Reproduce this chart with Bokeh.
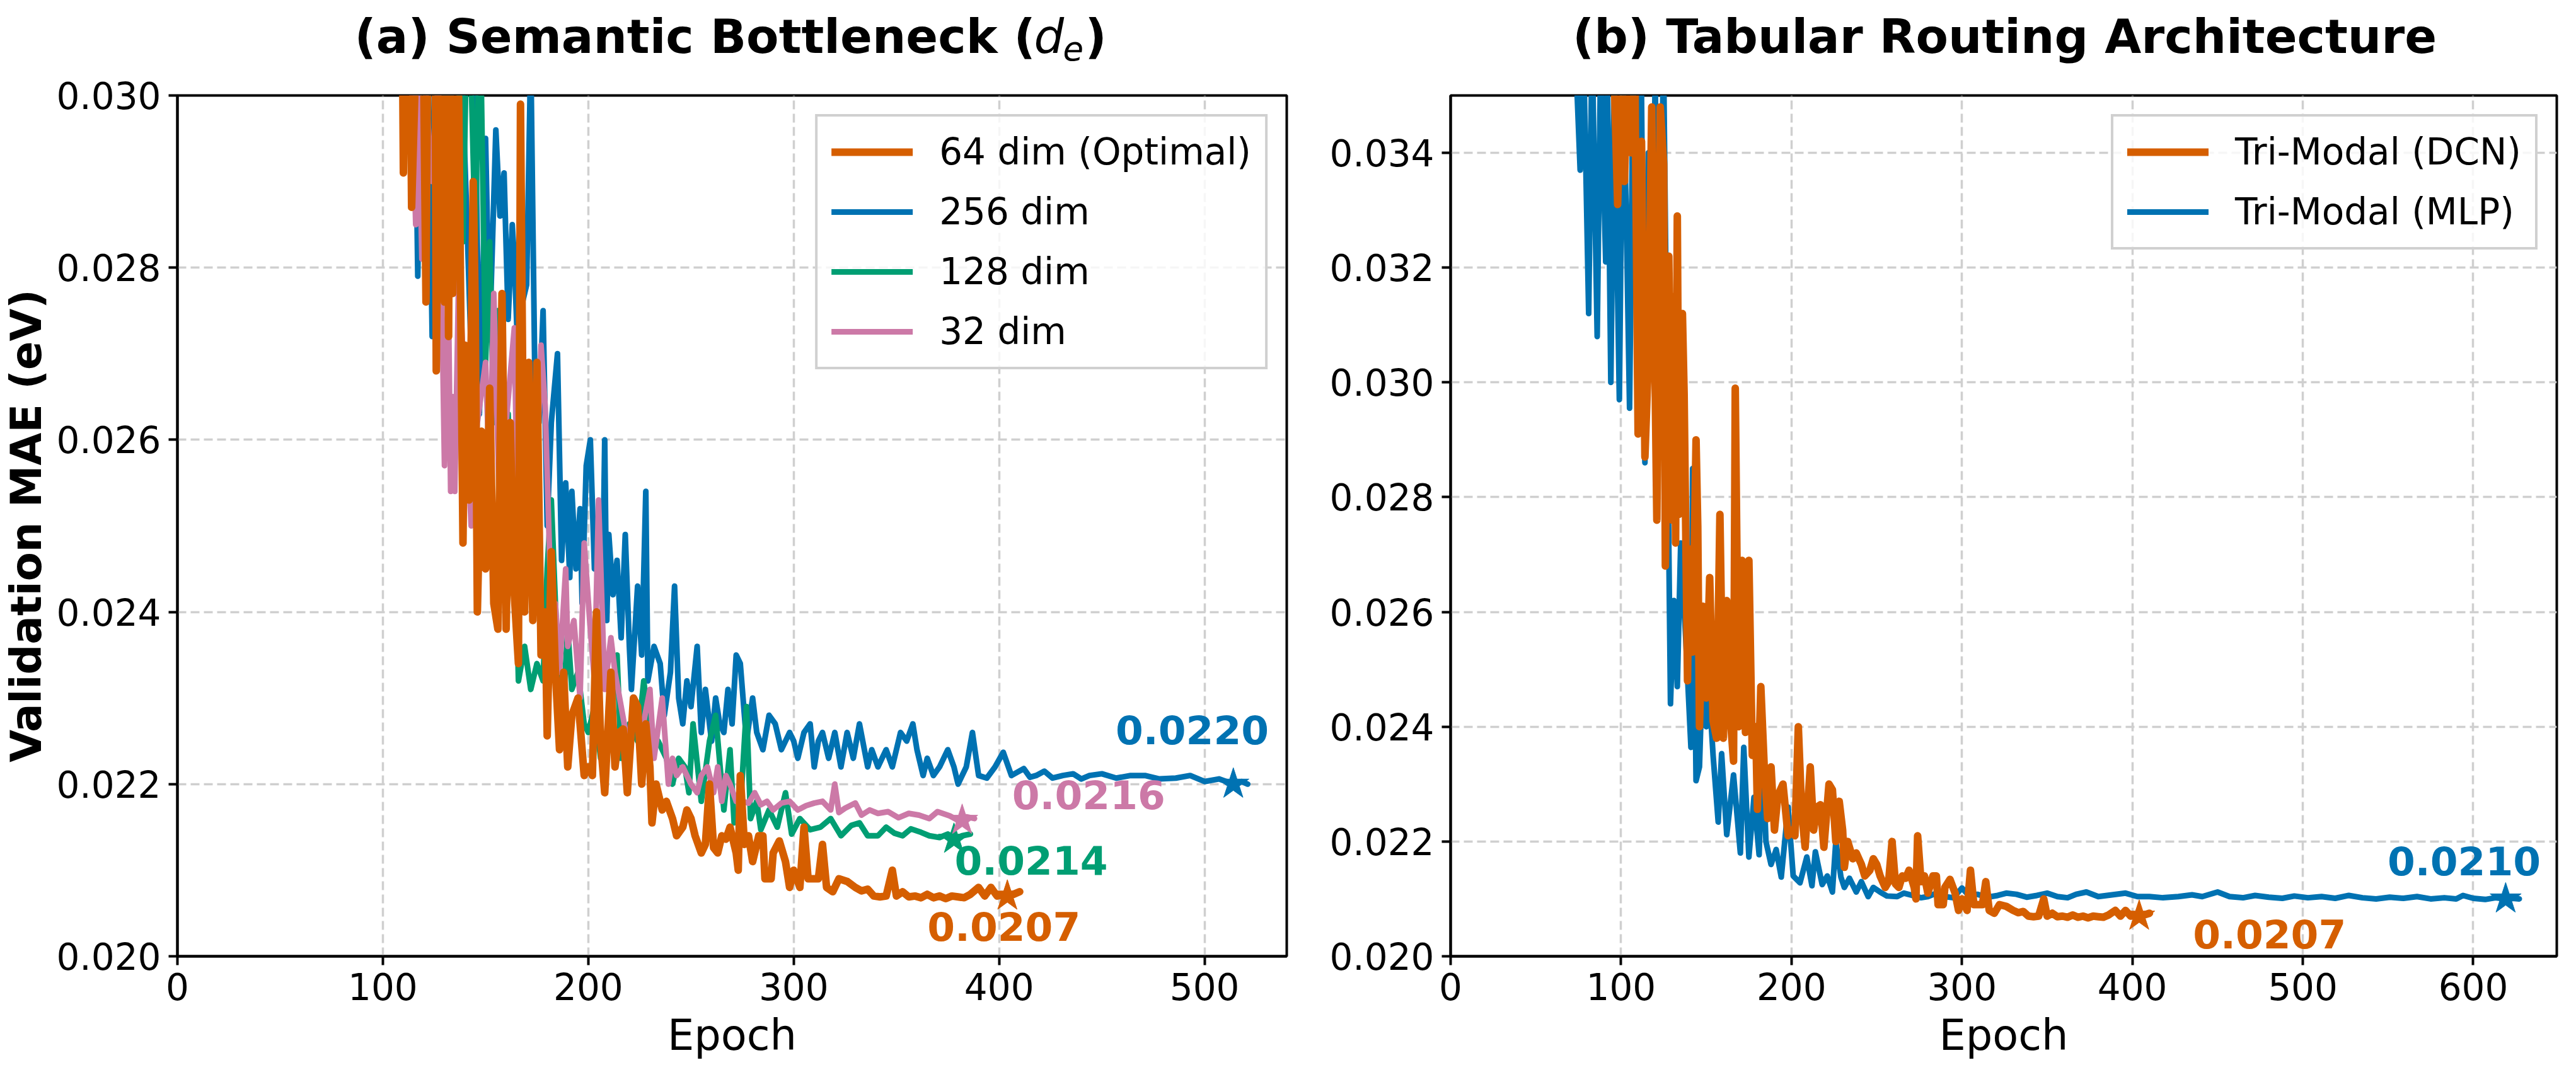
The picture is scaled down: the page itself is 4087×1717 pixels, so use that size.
from bokeh.plotting import figure
from bokeh.models import Range1d, FixedTicker, PrintfTickFormatter, Legend, LegendItem, Label
from bokeh.layouts import row, column
from bokeh.embed import file_html
from bokeh.resources import INLINE

ORANGE = "#D55E00"
BLUE = "#0072B2"
GREEN = "#009E73"
PINK = "#CC79A7"
FONT = "DejaVu Sans"

# ---------------- data ----------------
# 64 dim (Optimal) == Tri-Modal (DCN): same run shown in both panels
EPOCH_DIM64 = [94, 98, 100, 102, 104, 106, 108, 110, 112, 114, 116, 118, 121, 123, 125, 126, 128, 130, 131, 132,
               133, 134, 136, 137, 139, 140, 142, 144, 145, 146, 148, 150, 152, 154, 156, 158, 160, 162, 164, 166,
               167, 169, 171, 173, 175, 177, 179, 180, 182, 184, 186, 188, 190, 192, 195, 198, 200, 202, 204, 206,
               208, 211, 213, 215, 217, 219, 222, 224, 226, 228, 230, 231, 233, 236, 238, 241, 243, 246, 248, 250,
               252, 255, 257, 259, 261, 263, 265, 267, 269, 272, 273, 274, 276, 278, 280, 283, 285, 286, 289, 290,
               293, 296, 298, 300, 303, 305, 307, 309, 312, 314, 316, 319, 322, 326, 330, 333, 336, 339, 342, 345,
               348, 350, 353, 356, 359, 362, 365, 368, 371, 374, 377, 380, 383, 386, 390, 393, 396, 399, 401, 404,
               407, 410]
MAE_DIM64 = [0.0375, 0.0331, 0.0352, 0.0335, 0.0356, 0.0340, 0.0358, 0.0291, 0.0342, 0.0287, 0.0304, 0.0348, 0.0276,
             0.0348, 0.0338, 0.0268, 0.0322, 0.0276, 0.0315, 0.0272, 0.0329, 0.0277, 0.0312, 0.0298, 0.0248, 0.0271,
             0.0253, 0.0290, 0.0275, 0.0240, 0.0261, 0.0245, 0.0266, 0.0241, 0.0238, 0.0277, 0.0238, 0.0262, 0.0242,
             0.0234, 0.0299, 0.0240, 0.0269, 0.0239, 0.0269, 0.0235, 0.0240, 0.02256, 0.0247, 0.0233, 0.0224, 0.0233,
             0.0222, 0.0228, 0.0230, 0.0221, 0.0222, 0.0221, 0.0240, 0.0225, 0.0219, 0.0233, 0.0222, 0.0226, 0.02264,
             0.0219, 0.0230, 0.0229, 0.0220, 0.0227, 0.0222, 0.02155, 0.0220, 0.0217, 0.0218, 0.0216, 0.0214, 0.0215,
             0.0217, 0.0216, 0.0214, 0.0212, 0.0213, 0.0220, 0.02126, 0.0212, 0.0214, 0.02136, 0.0215, 0.0212, 0.0210,
             0.0221, 0.0213, 0.0214, 0.0211, 0.0214, 0.0214, 0.0209, 0.0209, 0.0212, 0.02134, 0.0211, 0.0208, 0.0210,
             0.0208, 0.0215, 0.0209, 0.0209, 0.0209, 0.0213, 0.0208, 0.02075, 0.0209, 0.02087, 0.0208, 0.02076,
             0.02078, 0.0207, 0.02069, 0.0207, 0.0210, 0.0207, 0.02075, 0.02069, 0.0207, 0.02068, 0.02072, 0.02068,
             0.0207, 0.02067, 0.0207, 0.02069, 0.02068, 0.02072, 0.0208, 0.0207, 0.0208, 0.0207, 0.02071, 0.0207,
             0.02072, 0.02075]

EPOCH_DIM256 = [110, 113, 115, 117, 119, 122, 124, 126, 129, 132, 135, 138, 141, 143, 145, 147, 149, 150, 152, 155,
                157, 159, 161, 163, 164, 166, 168, 170, 172, 174, 176, 178, 180, 182, 185, 187, 189, 191, 192, 194,
                196, 197, 199, 201, 203, 205, 207, 208, 209, 210, 212, 214, 216, 218, 220, 221, 224, 226, 228, 229,
                232, 235, 237, 240, 242, 244, 246, 248, 250, 253, 255, 257, 260, 262, 264, 266, 268, 270, 272, 274,
                277, 280, 282, 285, 288, 291, 294, 298, 300, 302, 305, 308, 310, 312, 314, 317, 320, 323, 326, 329,
                332, 336, 338, 341, 345, 348, 352, 355, 358, 360, 363, 365, 368, 371, 375, 378, 380, 384, 387, 390,
                394, 398, 402, 406, 409, 412, 415, 418, 422, 426, 431, 436, 440, 444, 450, 457, 464, 471, 478, 486,
                493, 500, 507, 514, 518, 521]
MAE_DIM256 = [0.0330, 0.0302, 0.0315, 0.0279, 0.0310, 0.0305, 0.0272, 0.0310, 0.0292, 0.0308, 0.0288, 0.0306, 0.0285,
              0.0270, 0.0301, 0.0263, 0.0282, 0.0295, 0.0272, 0.0296, 0.0286, 0.0291, 0.0274, 0.0285, 0.0281, 0.0268,
              0.0276, 0.0278, 0.0305, 0.0267, 0.0262, 0.0275, 0.0250, 0.0262, 0.0270, 0.0246, 0.0255, 0.0244, 0.0254,
              0.0245, 0.0252, 0.0241, 0.0257, 0.0260, 0.0245, 0.0250, 0.0243, 0.0260, 0.0239, 0.0249, 0.0242, 0.0246,
              0.0237, 0.0249, 0.0236, 0.0231, 0.0243, 0.0235, 0.0254, 0.0232, 0.0236, 0.0234, 0.0228, 0.0233, 0.0243,
              0.0230, 0.0227, 0.0232, 0.0229, 0.0236, 0.0226, 0.0231, 0.0225, 0.0230, 0.0227, 0.0226, 0.0231, 0.0227,
              0.0235, 0.0234, 0.0225, 0.0230, 0.0226, 0.0224, 0.0228, 0.0227, 0.0224, 0.0226, 0.0225, 0.0223, 0.0226,
              0.0227, 0.0222, 0.0225, 0.0226, 0.0223, 0.0226, 0.0222, 0.0226, 0.0223, 0.0227, 0.0222, 0.0224, 0.0222,
              0.0224, 0.0222, 0.0226, 0.0225, 0.0227, 0.0224, 0.0221, 0.0223, 0.0221, 0.0222, 0.0224, 0.0222, 0.0220,
              0.0222, 0.0226, 0.0221, 0.02207, 0.0222, 0.02237, 0.0221, 0.02214, 0.02218, 0.02208, 0.0221, 0.02215,
              0.02207, 0.0221, 0.02212, 0.02206, 0.0221, 0.02212, 0.02207, 0.0221, 0.0221, 0.02206, 0.02207, 0.0221,
              0.02203, 0.02206, 0.0220, 0.02203, 0.0220]

EPOCH_DIM128 = [133, 135, 137, 139, 141, 143, 145, 147, 148, 150, 152, 154, 156, 158, 161, 163, 164, 166, 169, 172,
                175, 178, 180, 182, 185, 188, 190, 192, 195, 198, 200, 203, 206, 210, 214, 216, 220, 224, 227, 230,
                234, 238, 241, 244, 247, 249, 251, 255, 259, 262, 266, 269, 271, 274, 277, 279, 282, 284, 288, 292,
                296, 299, 303, 308, 313, 318, 323, 328, 332, 336, 341, 345, 349, 353, 357, 362, 366, 371, 375, 378,
                382, 386]
MAE_DIM128 = [0.0330, 0.0315, 0.0305, 0.0283, 0.0310, 0.0302, 0.0283, 0.0310, 0.0300, 0.0269, 0.0283, 0.0262, 0.0275,
              0.0258, 0.0263, 0.0250, 0.0252, 0.0232, 0.0236, 0.0231, 0.0234, 0.0232, 0.0245, 0.0253, 0.0235, 0.0230,
              0.0238, 0.0231, 0.0233, 0.0227, 0.0226, 0.0229, 0.0223, 0.0226, 0.0235, 0.0223, 0.0227, 0.0225, 0.0232,
              0.0226, 0.0225, 0.0223, 0.0220, 0.0223, 0.0222, 0.0219, 0.0227, 0.0218, 0.0225, 0.0228, 0.0217, 0.0224,
              0.02155, 0.0217, 0.0229, 0.0216, 0.0218, 0.02147, 0.0217, 0.0215, 0.0219, 0.02142, 0.0216, 0.02147,
              0.0215, 0.0216, 0.0214, 0.02152, 0.02155, 0.0214, 0.0214, 0.0215, 0.02143, 0.0214, 0.02148, 0.02144,
              0.0214, 0.02138, 0.02142, 0.02136, 0.0214, 0.02142]

EPOCH_DIM32 = [112, 114, 116, 117, 119, 121, 124, 127, 130, 132, 133, 134, 135, 137, 140, 143, 146, 150, 152, 154,
               157, 160, 164, 166, 170, 174, 177, 179, 182, 184, 186, 189, 190, 193, 196, 198, 201, 203, 205, 208,
               211, 213, 216, 219, 223, 226, 230, 232, 236, 239, 241, 243, 246, 250, 253, 255, 258, 261, 263, 265,
               267, 269, 272, 275, 278, 281, 284, 287, 290, 294, 298, 302, 306, 310, 314, 318, 320, 322, 325, 330,
               333, 337, 341, 346, 351, 356, 361, 366, 370, 376, 380, 384, 388]
MAE_DIM32 = [0.0330, 0.0302, 0.0285, 0.0305, 0.0281, 0.0300, 0.0290, 0.0302, 0.0257, 0.0275, 0.0254, 0.0265, 0.0254,
             0.0280, 0.0265, 0.0250, 0.0262, 0.0269, 0.0255, 0.0277, 0.0250, 0.0262, 0.0273, 0.0245, 0.0258, 0.0248,
             0.0271, 0.0264, 0.0240, 0.0241, 0.0233, 0.0245, 0.0236, 0.0239, 0.0230, 0.0248, 0.0238, 0.0232, 0.0253,
             0.0231, 0.0237, 0.0233, 0.0229, 0.0225, 0.0229, 0.0226, 0.0231, 0.0223, 0.0230, 0.0220, 0.0223, 0.0221,
             0.0222, 0.0220, 0.0219, 0.0221, 0.0222, 0.0219, 0.0222, 0.0218, 0.0221, 0.0220, 0.0218, 0.0218, 0.02178,
             0.0219, 0.02176, 0.0218, 0.0217, 0.02178, 0.0218, 0.0217, 0.02175, 0.02178, 0.0218, 0.0217, 0.0220,
             0.02167, 0.02172, 0.02178, 0.02164, 0.0217, 0.02166, 0.02168, 0.02161, 0.02166, 0.02164, 0.0216,
             0.02168, 0.02163, 0.02158, 0.02162, 0.0216]

EPOCH_MLP = [71, 74, 76, 78, 81, 83, 86, 88, 91, 92, 94, 96, 99, 101, 103, 105, 107, 110, 112, 114, 116, 118, 120,
             122, 125, 127, 129, 131, 133, 135, 138, 141, 142, 144, 146, 148, 150, 152, 154, 157, 159, 162, 166, 170,
             172, 175, 178, 181, 183, 185, 188, 191, 194, 198, 201, 205, 209, 212, 214, 218, 221, 224, 226, 229, 231,
             234, 238, 241, 245, 248, 252, 256, 262, 266, 271, 276, 280, 285, 290, 295, 300, 304, 309, 315, 321, 326,
             332, 338, 344, 350, 356, 362, 367, 373, 380, 388, 396, 403, 410, 418, 427, 435, 441, 450, 457, 465, 472,
             480, 488, 495, 503, 511, 519, 527, 535, 543, 551, 559, 567, 575, 583, 590, 594, 600, 607, 613, 619, 623,
             627]
MAE_MLP = [0.0380, 0.0352, 0.0337, 0.0358, 0.0312, 0.0360, 0.0308, 0.0356, 0.0321, 0.0354, 0.0300, 0.0352, 0.0297,
           0.0355, 0.0330, 0.02955, 0.0352, 0.0325, 0.0350, 0.0286, 0.0340, 0.0315, 0.0352, 0.0320, 0.0355, 0.0300,
           0.0244, 0.0262, 0.0247, 0.0272, 0.0255, 0.02364, 0.0285, 0.02306, 0.0233, 0.0252, 0.0240, 0.02447, 0.0235,
           0.02234, 0.02353, 0.02212, 0.02316, 0.0218, 0.02364, 0.02173, 0.02277, 0.02177, 0.02364, 0.0220, 0.0216,
           0.02186, 0.02138, 0.0226, 0.0214, 0.02128, 0.02173, 0.02123, 0.02182, 0.02125, 0.0214, 0.02112, 0.0220,
           0.02138, 0.0212, 0.02136, 0.02112, 0.0213, 0.02104, 0.0212, 0.02112, 0.02105, 0.02104, 0.0211, 0.02106,
           0.02102, 0.02104, 0.0211, 0.02104, 0.02102, 0.02119, 0.02106, 0.02108, 0.02103, 0.02106, 0.0211, 0.02108,
           0.02103, 0.02106, 0.0211, 0.02104, 0.02102, 0.02108, 0.02112, 0.02104, 0.02107, 0.0211, 0.02104, 0.02104,
           0.02102, 0.02104, 0.02107, 0.02104, 0.02112, 0.02104, 0.02102, 0.02106, 0.02103, 0.02101, 0.02105, 0.02102,
           0.02104, 0.02101, 0.02106, 0.02102, 0.0210, 0.02103, 0.02101, 0.02104, 0.0210, 0.02102, 0.0210, 0.02106,
           0.02101, 0.02099, 0.02102, 0.0210, 0.02101, 0.0210]

EPOCH_DCN = EPOCH_DIM64
MAE_DCN = MAE_DIM64

# best (starred) points and their labels
BEST_EPOCH_A = [404, 514, 378, 382]
BEST_MAE_A = [0.0207, 0.0220, 0.02136, 0.02158]
BEST_EPOCH_B = [404, 619]
BEST_MAE_B = [0.0207, 0.0210]

LEGEND_A = ["64 dim (Optimal)", "256 dim", "128 dim", "32 dim"]
LEGEND_B = ["Tri-Modal (DCN)", "Tri-Modal (MLP)"]
XTICKS_A = [0, 100, 200, 300, 400, 500]
XTICKS_B = [0, 100, 200, 300, 400, 500, 600]
YTICKS_A = [0.020, 0.022, 0.024, 0.026, 0.028, 0.030]
YTICKS_B = [0.020, 0.022, 0.024, 0.026, 0.028, 0.030, 0.032, 0.034]

# label anchor positions (left edge / baseline), data units
LABEL_POS_A = [(365, 0.02035), (456.7, 0.02263), (378.3, 0.02112), (406.3, 0.02188)]
LABEL_POS_B = [(435.5, 0.02039), (549.7, 0.02166)]

TITLE_H = 113
TOP_PAD = 151 - TITLE_H


def style(p, xticks, yticks):
    p.xaxis.ticker = FixedTicker(ticks=xticks)
    p.yaxis.ticker = FixedTicker(ticks=yticks)
    p.yaxis.formatter = PrintfTickFormatter(format="%.3f")
    for ax in (p.xaxis[0], p.yaxis[0]):
        ax.axis_line_color = "black"
        ax.axis_line_width = 4
        ax.major_tick_line_color = "black"
        ax.major_tick_line_width = 4
        ax.major_tick_out = 14
        ax.major_tick_in = 0
        ax.minor_tick_line_color = None
        ax.major_label_text_font = FONT
        ax.major_label_text_font_size = "58px"
        ax.major_label_text_color = "black"
        ax.major_label_standoff = 12
        ax.axis_label_text_font = FONT
        ax.axis_label_text_font_size = "67px"
        ax.axis_label_text_color = "black"
    p.xaxis[0].axis_label_standoff = 14
    p.yaxis[0].axis_label_standoff = 5
    p.outline_line_color = "black"
    p.outline_line_width = 4
    for g in (p.xgrid[0], p.ygrid[0]):
        g.grid_line_color = "#cfcfcf"
        g.grid_line_width = 3.5
        g.grid_line_dash = "14 7"
    p.background_fill_color = "white"
    p.border_fill_color = "white"


def make_legend(items):
    return Legend(items=items, location="top_right", margin=30, padding=22, spacing=27,
                  glyph_width=129, glyph_height=60, label_height=60, label_standoff=42,
                  label_text_font=FONT, label_text_font_size="58px", label_text_color="black",
                  border_line_color="#d0d0d0", border_line_width=4, border_line_alpha=1.0,
                  background_fill_color="white", background_fill_alpha=0.8)


def title_fig(width):
    t = figure(width=width, height=TITLE_H, output_backend="svg", toolbar_location=None,
               x_range=Range1d(0, width), y_range=Range1d(0, TITLE_H),
               x_axis_type=None, y_axis_type=None,
               min_border_left=0, min_border_right=0, min_border_top=0, min_border_bottom=0)
    t.outline_line_color = None
    t.background_fill_color = "white"
    t.border_fill_color = "white"
    return t


# ---------------- titles ----------------
tkw = dict(text_color="black", text_font=FONT, text_baseline="alphabetic")
base = 64 - (121 - TITLE_H)
t1 = title_fig(2080)
t1.add_layout(Label(x=562, y=base, text="(a) Semantic Bottleneck (", text_font_size="75px",
                    text_font_style="bold", text_align="left", **tkw))
t1.add_layout(Label(x=1640, y=base, text="d", text_font_size="75px", text_font_style="italic",
                    text_align="left", **tkw))
t1.add_layout(Label(x=1686, y=base - 19, text="e", text_font_size="53px", text_font_style="italic",
                    text_align="left", **tkw))
t1.add_layout(Label(x=1721, y=base, text=")", text_font_size="75px", text_font_style="bold",
                    text_align="left", **tkw))

t2 = title_fig(2007)
t2.add_layout(Label(x=1100, y=base, text="(b) Tabular Routing Architecture", text_font_size="75px",
                    text_font_style="bold", text_align="center", **tkw))

# ---------------- panel (a) ----------------
p1 = figure(width=2080, height=1717 - TITLE_H, output_backend="svg", toolbar_location=None,
            x_range=Range1d(0, 540), y_range=Range1d(0.020, 0.030),
            min_border_left=279, min_border_right=39, min_border_top=TOP_PAD, min_border_bottom=200)
style(p1, XTICKS_A, YTICKS_A)
p1.xaxis.axis_label = "Epoch"
p1.yaxis.axis_label = "Validation MAE (eV)"
p1.yaxis.axis_label_text_font_style = "bold"
p1.xaxis.axis_label_text_font_style = "normal"

kw = dict(line_join="round", line_cap="round")
r256 = p1.line(EPOCH_DIM256, MAE_DIM256, line_color=BLUE, line_width=9, **kw)
r128 = p1.line(EPOCH_DIM128, MAE_DIM128, line_color=GREEN, line_width=9, **kw)
r32 = p1.line(EPOCH_DIM32, MAE_DIM32, line_color=PINK, line_width=9, **kw)
r64 = p1.line(EPOCH_DIM64, MAE_DIM64, line_color=ORANGE, line_width=12, **kw)

colors_a = [ORANGE, BLUE, GREEN, PINK]
for ep, v, c, (lx, ly) in zip(BEST_EPOCH_A, BEST_MAE_A, colors_a, LABEL_POS_A):
    p1.scatter([ep], [v], marker="star", size=52, fill_color=c, line_color=c)
    p1.add_layout(Label(x=lx, y=ly, text=f"{v:.4f}", text_color=c, text_font=FONT,
                        text_font_size="63px", text_font_style="bold",
                        text_align="left", text_baseline="alphabetic"))

p1.add_layout(make_legend([LegendItem(label=LEGEND_A[0], renderers=[r64]),
                           LegendItem(label=LEGEND_A[1], renderers=[r256]),
                           LegendItem(label=LEGEND_A[2], renderers=[r128]),
                           LegendItem(label=LEGEND_A[3], renderers=[r32])]))

# ---------------- panel (b) ----------------
p2 = figure(width=2007, height=1717 - TITLE_H, output_backend="svg", toolbar_location=None,
            x_range=Range1d(0, 649), y_range=Range1d(0.020, 0.035),
            min_border_left=221, min_border_right=31, min_border_top=TOP_PAD, min_border_bottom=200)
style(p2, XTICKS_B, YTICKS_B)
p2.xaxis.axis_label = "Epoch"
p2.xaxis.axis_label_text_font_style = "normal"

rmlp = p2.line(EPOCH_MLP, MAE_MLP, line_color=BLUE, line_width=9, **kw)
rdcn = p2.line(EPOCH_DCN, MAE_DCN, line_color=ORANGE, line_width=12, **kw)

colors_b = [ORANGE, BLUE]
for ep, v, c, (lx, ly) in zip(BEST_EPOCH_B, BEST_MAE_B, colors_b, LABEL_POS_B):
    p2.scatter([ep], [v], marker="star", size=52, fill_color=c, line_color=c)
    p2.add_layout(Label(x=lx, y=ly, text=f"{v:.4f}", text_color=c, text_font=FONT,
                        text_font_size="63px", text_font_style="bold",
                        text_align="left", text_baseline="alphabetic"))

p2.add_layout(make_legend([LegendItem(label=LEGEND_B[0], renderers=[rdcn]),
                           LegendItem(label=LEGEND_B[1], renderers=[rmlp])]))

layout = column(row(t1, t2), row(p1, p2))
open("out.html", "w").write(file_html(layout, INLINE))
